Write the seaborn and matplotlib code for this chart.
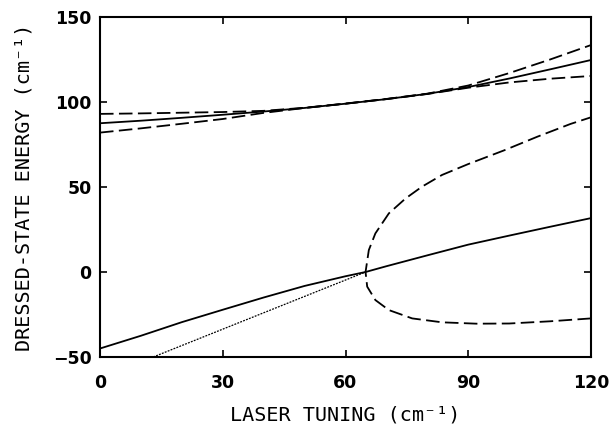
import numpy as np
import pandas as pd
import matplotlib
matplotlib.use("Agg")
import matplotlib.pyplot as plt
import seaborn as sns

# laser tuning grid (cm-1) for the upper triplet
tuning = [0, 10, 20, 30, 40, 50, 60, 70, 80, 90, 100, 110, 120]
upper_solid = [87.5, 89.0, 90.7, 92.5, 94.4, 96.5, 99.0, 101.7, 104.8, 108.8, 113.8, 119.2, 124.7]
upper_dash_hi = [93.0, 93.3, 93.7, 94.1, 94.8, 96.6, 99.1, 101.8, 104.9, 109.7, 117.0, 125.0, 133.5]
upper_dash_lo = [82.0, 84.5, 87.2, 90.0, 93.6, 96.5, 99.0, 101.7, 104.7, 108.4, 111.5, 113.7, 115.3]

# lower solid curve
lower_x = [0, 10, 20, 30, 40, 50, 60, 64.9, 70, 80, 90, 100, 110, 120]
lower_solid = [-45.0, -37.5, -29.5, -22.2, -15.0, -8.2, -2.5, 0.0, 3.4, 9.8, 16.1, 21.4, 26.6, 31.7]

# dotted bare-state line
dot_x = [13.0, 64.9]
dot_y = [-50.0, 0.0]

# dashed fork (lower branch from right end back to the vertex, then upper branch)
fork_x = [120, 110, 100, 92, 83.6, 76.3, 70.6, 67.3, 65.3, 64.9,
          65.7, 67.3, 70.6, 74.7, 78.7, 83.6, 90, 98.7, 106.9, 115, 120]
fork_y = [-27.3, -29.0, -30.3, -30.4, -29.6, -27.3, -22.4, -16.5, -8.6, 0.0,
          12.9, 22.7, 34.5, 43.3, 50.2, 57.1, 63.5, 71.5, 79.6, 87.1, 91.0]

sns.set_style("ticks")
plt.rcParams['xtick.direction'] = 'in'
plt.rcParams['ytick.direction'] = 'in'
plt.rcParams['text.color'] = 'black'
plt.rcParams['axes.labelcolor'] = 'black'
plt.rcParams['xtick.color'] = 'black'
plt.rcParams['ytick.color'] = 'black'
plt.rcParams['axes.edgecolor'] = 'black'

fig = plt.figure(figsize=(6.16, 4.32), dpi=100)
ax = fig.add_axes([100/616, 75/432, 491/616, 340/432])

dash = (7.5, 3)
kw = dict(ax=ax, color='black', estimator=None, errorbar=None, sort=False)
sns.lineplot(x=tuning, y=upper_solid, lw=1.3, **kw)
sns.lineplot(x=tuning, y=upper_dash_hi, lw=1.3, linestyle=(0, dash), **kw)
sns.lineplot(x=tuning, y=upper_dash_lo, lw=1.3, linestyle=(0, dash), **kw)
sns.lineplot(x=lower_x, y=lower_solid, lw=1.3, **kw)
sns.lineplot(x=dot_x, y=dot_y, lw=0.9, linestyle=(0, (1.5, 1)), **kw)
sns.lineplot(x=fork_x, y=fork_y, lw=1.3, linestyle=(0, dash), **kw)

ax.set_xlim(0, 120)
ax.set_ylim(-50, 150)
ax.set_xticks([0, 30, 60, 90, 120])
ax.set_yticks([-50, 0, 50, 100, 150])
ax.tick_params(top=True, right=True, length=5, width=1.2, labelsize=12.5)
ax.tick_params(axis='x', pad=12)
ax.tick_params(axis='y', pad=6)
for lab in ax.get_xticklabels() + ax.get_yticklabels():
    lab.set_fontweight('bold')
for sp in ax.spines.values():
    sp.set_linewidth(1.5)

ax.set_xlabel("LASER TUNING (cm⁻¹)", family='DejaVu Sans Mono', fontsize=14.5, labelpad=10)
ax.set_ylabel("DRESSED-STATE ENERGY (cm⁻¹)", family='DejaVu Sans Mono', fontsize=14.5, labelpad=14)

fig.savefig("out.png", dpi=100)
